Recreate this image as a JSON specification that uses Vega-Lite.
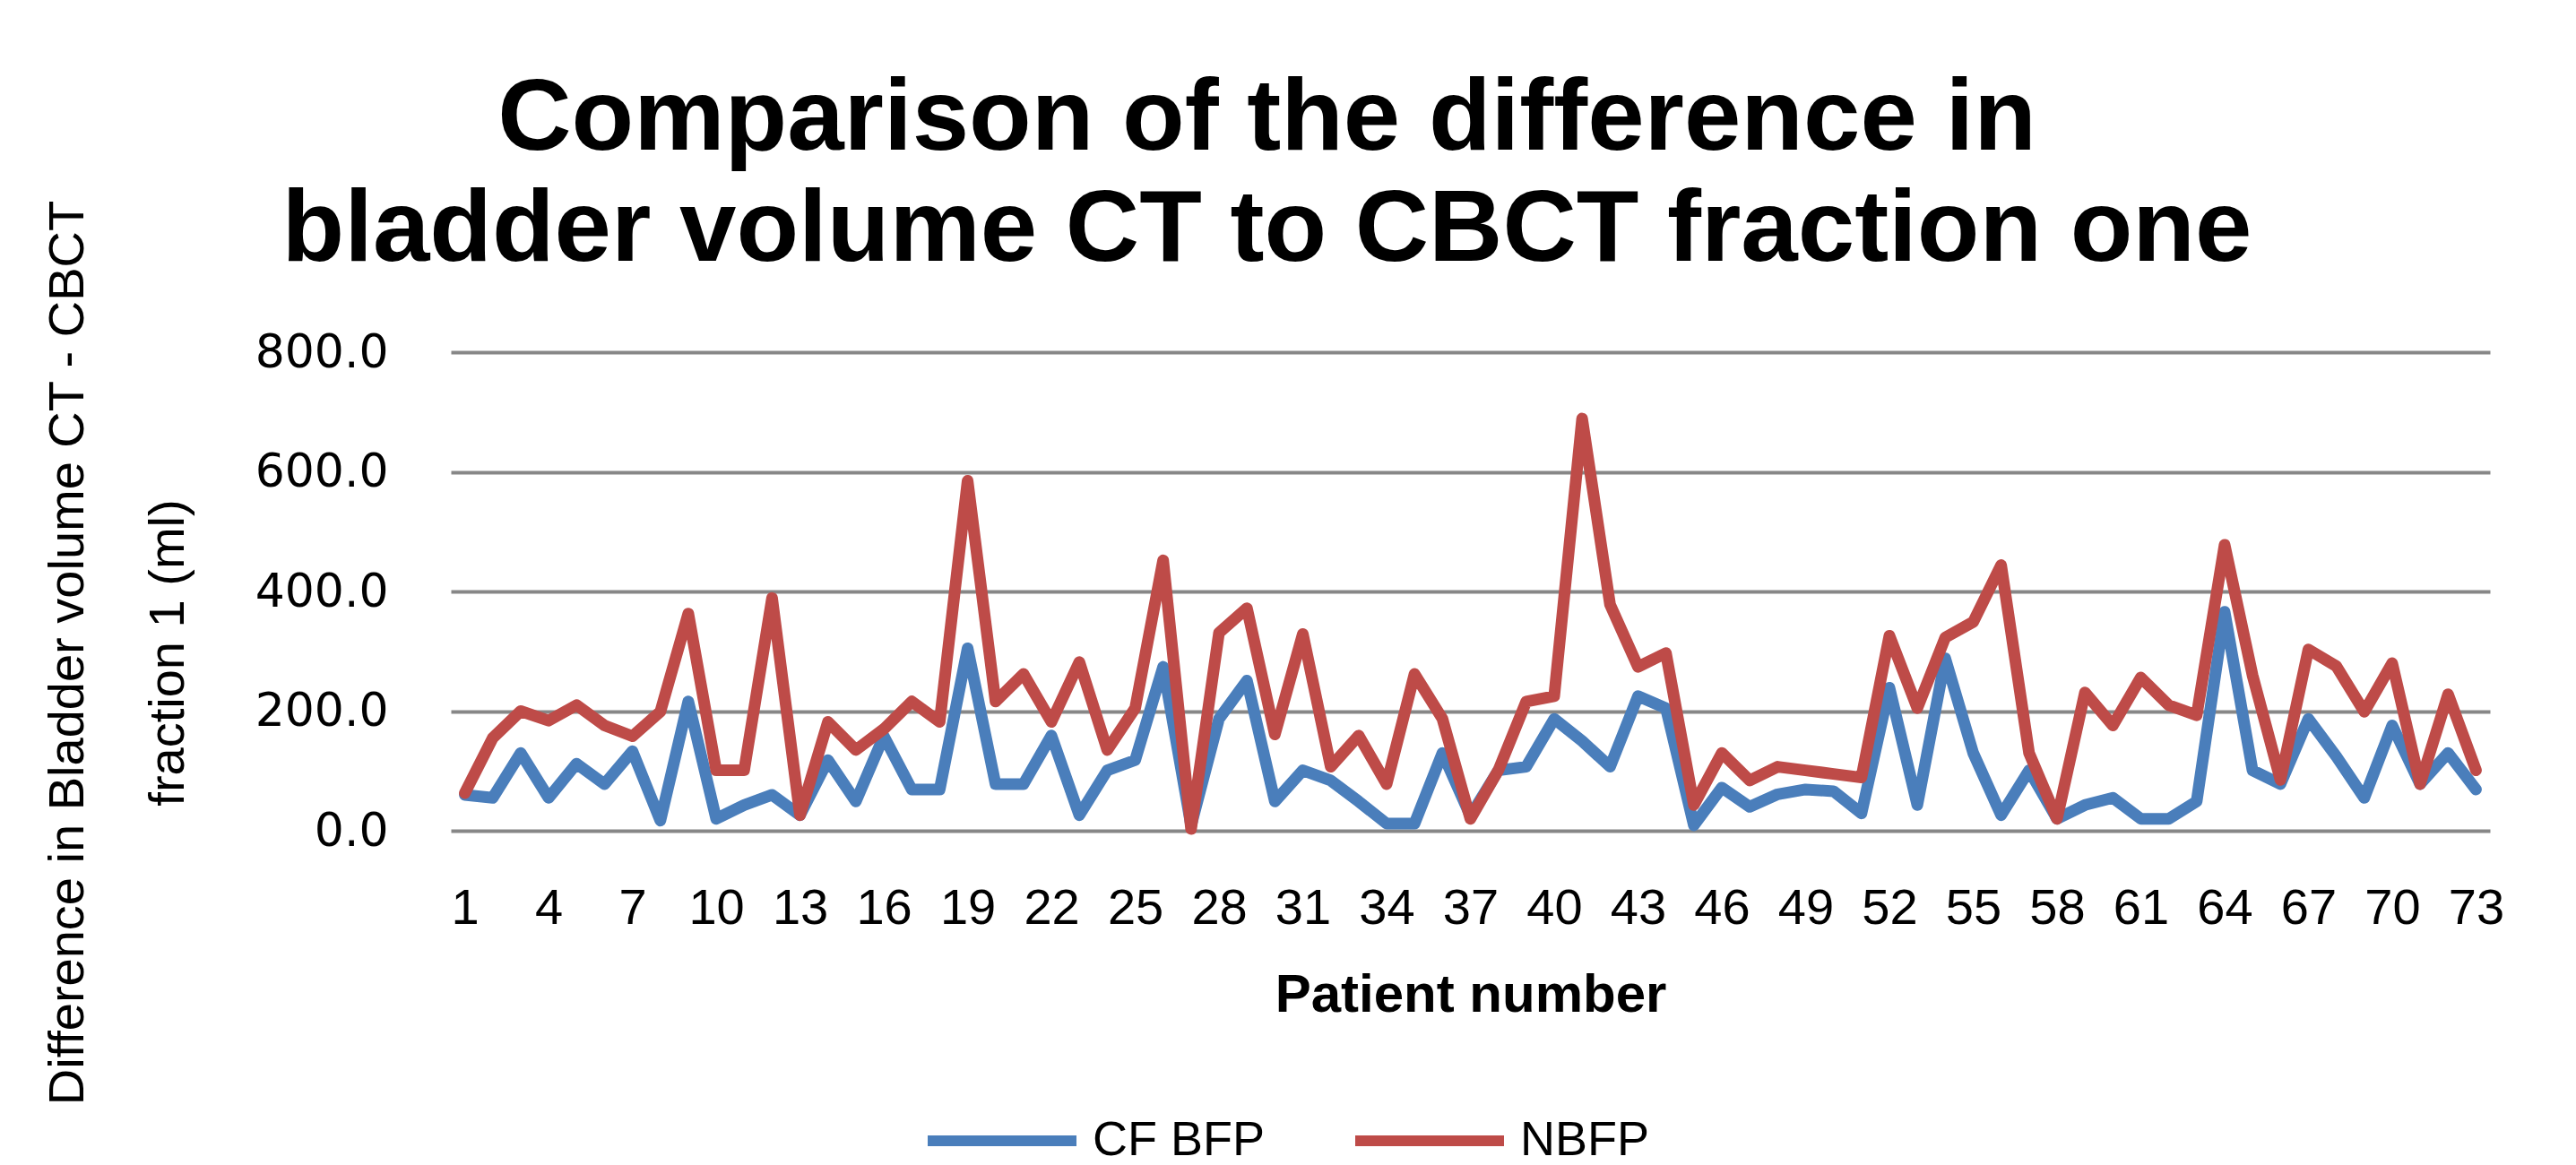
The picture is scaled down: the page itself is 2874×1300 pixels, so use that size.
{
  "$schema": "https://vega.github.io/schema/vega-lite/v6.json",
  "autosize": {"type": "none"},
  "padding": {"left": 503, "top": 393, "right": 96, "bottom": 373},
  "width": 2275,
  "height": 534,
  "background": "white",
  "title": {
    "text": ["Comparison of the difference in", "bladder volume CT to CBCT fraction one"],
    "font": "Liberation Sans",
    "fontSize": 114,
    "fontWeight": "bold",
    "color": "#000000",
    "lineHeight": 124,
    "anchor": "middle",
    "frame": "group",
    "dx": -227,
    "dy": 168,
    "offset": 76
  },
  "config": {
    "view": {"stroke": null},
    "axis": {"labelColor": "#000000", "titleColor": "#000000"}
  },
  "datasets": {
    "rows": [
      {"patient": 1, "series": "CF BFP", "value": 60}, {"patient": 2, "series": "CF BFP", "value": 55},
      {"patient": 3, "series": "CF BFP", "value": 130}, {"patient": 4, "series": "CF BFP", "value": 55},
      {"patient": 5, "series": "CF BFP", "value": 112}, {"patient": 6, "series": "CF BFP", "value": 78},
      {"patient": 7, "series": "CF BFP", "value": 133}, {"patient": 8, "series": "CF BFP", "value": 17},
      {"patient": 9, "series": "CF BFP", "value": 216}, {"patient": 10, "series": "CF BFP", "value": 20},
      {"patient": 11, "series": "CF BFP", "value": 43}, {"patient": 12, "series": "CF BFP", "value": 60},
      {"patient": 13, "series": "CF BFP", "value": 26}, {"patient": 14, "series": "CF BFP", "value": 118},
      {"patient": 15, "series": "CF BFP", "value": 49}, {"patient": 16, "series": "CF BFP", "value": 158},
      {"patient": 17, "series": "CF BFP", "value": 69}, {"patient": 18, "series": "CF BFP", "value": 69},
      {"patient": 19, "series": "CF BFP", "value": 305}, {"patient": 20, "series": "CF BFP", "value": 78},
      {"patient": 21, "series": "CF BFP", "value": 78}, {"patient": 22, "series": "CF BFP", "value": 159},
      {"patient": 23, "series": "CF BFP", "value": 26}, {"patient": 24, "series": "CF BFP", "value": 101},
      {"patient": 25, "series": "CF BFP", "value": 118}, {"patient": 26, "series": "CF BFP", "value": 274},
      {"patient": 27, "series": "CF BFP", "value": 9}, {"patient": 28, "series": "CF BFP", "value": 187},
      {"patient": 29, "series": "CF BFP", "value": 251}, {"patient": 30, "series": "CF BFP", "value": 49},
      {"patient": 31, "series": "CF BFP", "value": 101}, {"patient": 32, "series": "CF BFP", "value": 84},
      {"patient": 33, "series": "CF BFP", "value": 49}, {"patient": 34, "series": "CF BFP", "value": 12},
      {"patient": 35, "series": "CF BFP", "value": 12}, {"patient": 36, "series": "CF BFP", "value": 130},
      {"patient": 37, "series": "CF BFP", "value": 25}, {"patient": 38, "series": "CF BFP", "value": 101},
      {"patient": 39, "series": "CF BFP", "value": 107}, {"patient": 40, "series": "CF BFP", "value": 187},
      {"patient": 41, "series": "CF BFP", "value": 150}, {"patient": 42, "series": "CF BFP", "value": 107},
      {"patient": 43, "series": "CF BFP", "value": 225}, {"patient": 44, "series": "CF BFP", "value": 205},
      {"patient": 45, "series": "CF BFP", "value": 9}, {"patient": 46, "series": "CF BFP", "value": 72},
      {"patient": 47, "series": "CF BFP", "value": 40}, {"patient": 48, "series": "CF BFP", "value": 61},
      {"patient": 49, "series": "CF BFP", "value": 69}, {"patient": 50, "series": "CF BFP", "value": 66},
      {"patient": 51, "series": "CF BFP", "value": 29}, {"patient": 52, "series": "CF BFP", "value": 239},
      {"patient": 53, "series": "CF BFP", "value": 43}, {"patient": 54, "series": "CF BFP", "value": 288},
      {"patient": 55, "series": "CF BFP", "value": 130}, {"patient": 56, "series": "CF BFP", "value": 26},
      {"patient": 57, "series": "CF BFP", "value": 101}, {"patient": 58, "series": "CF BFP", "value": 20},
      {"patient": 59, "series": "CF BFP", "value": 43}, {"patient": 60, "series": "CF BFP", "value": 55},
      {"patient": 61, "series": "CF BFP", "value": 20}, {"patient": 62, "series": "CF BFP", "value": 20},
      {"patient": 63, "series": "CF BFP", "value": 49}, {"patient": 64, "series": "CF BFP", "value": 366},
      {"patient": 65, "series": "CF BFP", "value": 101}, {"patient": 66, "series": "CF BFP", "value": 78},
      {"patient": 67, "series": "CF BFP", "value": 187}, {"patient": 68, "series": "CF BFP", "value": 124},
      {"patient": 69, "series": "CF BFP", "value": 55}, {"patient": 70, "series": "CF BFP", "value": 176},
      {"patient": 71, "series": "CF BFP", "value": 78}, {"patient": 72, "series": "CF BFP", "value": 130},
      {"patient": 73, "series": "CF BFP", "value": 69},
      {"patient": 1, "series": "NBFP", "value": 63}, {"patient": 2, "series": "NBFP", "value": 155},
      {"patient": 3, "series": "NBFP", "value": 200}, {"patient": 4, "series": "NBFP", "value": 184},
      {"patient": 5, "series": "NBFP", "value": 210}, {"patient": 6, "series": "NBFP", "value": 176},
      {"patient": 7, "series": "NBFP", "value": 158}, {"patient": 8, "series": "NBFP", "value": 199},
      {"patient": 9, "series": "NBFP", "value": 363}, {"patient": 10, "series": "NBFP", "value": 101},
      {"patient": 11, "series": "NBFP", "value": 101}, {"patient": 12, "series": "NBFP", "value": 389},
      {"patient": 13, "series": "NBFP", "value": 26}, {"patient": 14, "series": "NBFP", "value": 182},
      {"patient": 15, "series": "NBFP", "value": 135}, {"patient": 16, "series": "NBFP", "value": 170},
      {"patient": 17, "series": "NBFP", "value": 216}, {"patient": 18, "series": "NBFP", "value": 182},
      {"patient": 19, "series": "NBFP", "value": 585}, {"patient": 20, "series": "NBFP", "value": 216},
      {"patient": 21, "series": "NBFP", "value": 262}, {"patient": 22, "series": "NBFP", "value": 182},
      {"patient": 23, "series": "NBFP", "value": 282}, {"patient": 24, "series": "NBFP", "value": 135},
      {"patient": 25, "series": "NBFP", "value": 205}, {"patient": 26, "series": "NBFP", "value": 452},
      {"patient": 27, "series": "NBFP", "value": 3}, {"patient": 28, "series": "NBFP", "value": 331},
      {"patient": 29, "series": "NBFP", "value": 372}, {"patient": 30, "series": "NBFP", "value": 161},
      {"patient": 31, "series": "NBFP", "value": 329}, {"patient": 32, "series": "NBFP", "value": 107},
      {"patient": 33, "series": "NBFP", "value": 159}, {"patient": 34, "series": "NBFP", "value": 78},
      {"patient": 35, "series": "NBFP", "value": 262}, {"patient": 36, "series": "NBFP", "value": 187},
      {"patient": 37, "series": "NBFP", "value": 20}, {"patient": 38, "series": "NBFP", "value": 101},
      {"patient": 39, "series": "NBFP", "value": 216}, {"patient": 40, "series": "NBFP", "value": 225},
      {"patient": 41, "series": "NBFP", "value": 689}, {"patient": 42, "series": "NBFP", "value": 378},
      {"patient": 43, "series": "NBFP", "value": 274}, {"patient": 44, "series": "NBFP", "value": 297},
      {"patient": 45, "series": "NBFP", "value": 43}, {"patient": 46, "series": "NBFP", "value": 130},
      {"patient": 47, "series": "NBFP", "value": 84}, {"patient": 48, "series": "NBFP", "value": 107},
      {"patient": 49, "series": "NBFP", "value": 101}, {"patient": 50, "series": "NBFP", "value": 95},
      {"patient": 51, "series": "NBFP", "value": 89}, {"patient": 52, "series": "NBFP", "value": 326},
      {"patient": 53, "series": "NBFP", "value": 205}, {"patient": 54, "series": "NBFP", "value": 323},
      {"patient": 55, "series": "NBFP", "value": 349}, {"patient": 56, "series": "NBFP", "value": 444},
      {"patient": 57, "series": "NBFP", "value": 130}, {"patient": 58, "series": "NBFP", "value": 20},
      {"patient": 59, "series": "NBFP", "value": 231}, {"patient": 60, "series": "NBFP", "value": 176},
      {"patient": 61, "series": "NBFP", "value": 256}, {"patient": 62, "series": "NBFP", "value": 210},
      {"patient": 63, "series": "NBFP", "value": 193}, {"patient": 64, "series": "NBFP", "value": 478},
      {"patient": 65, "series": "NBFP", "value": 260}, {"patient": 66, "series": "NBFP", "value": 85},
      {"patient": 67, "series": "NBFP", "value": 303}, {"patient": 68, "series": "NBFP", "value": 275},
      {"patient": 69, "series": "NBFP", "value": 199}, {"patient": 70, "series": "NBFP", "value": 280},
      {"patient": 71, "series": "NBFP", "value": 78}, {"patient": 72, "series": "NBFP", "value": 228},
      {"patient": 73, "series": "NBFP", "value": 101}
    ]
  },
  "data": {"name": "rows"},
  "mark": {"type": "line", "strokeWidth": 13, "strokeJoin": "round", "strokeCap": "round"},
  "encoding": {
    "x": {
      "field": "patient",
      "type": "ordinal",
      "sort": "ascending",
      "axis": {
        "values": [1, 4, 7, 10, 13, 16, 19, 22, 25, 28, 31, 34, 37, 40, 43, 46, 49, 52, 55, 58, 61, 64, 67, 70, 73],
        "labelAngle": 0,
        "domain": false,
        "ticks": false,
        "grid": false,
        "labelFont": "Liberation Sans",
        "labelFontSize": 56,
        "labelPadding": 59,
        "title": "Patient number",
        "titleFont": "Liberation Sans",
        "titleFontSize": 60,
        "titleFontWeight": "bold",
        "titlePadding": 40
      }
    },
    "y": {
      "field": "value",
      "type": "quantitative",
      "scale": {"domain": [0, 800]},
      "axis": {
        "values": [0, 200, 400, 600, 800],
        "format": ".1f",
        "domain": false,
        "ticks": false,
        "grid": true,
        "gridColor": "#878787",
        "gridWidth": 4,
        "labelFont": "DejaVu Sans",
        "labelFontSize": 52,
        "labelPadding": 70,
        "title": ["Difference in Bladder volume CT - CBCT", "fraction 1 (ml)"],
        "titleFont": "Liberation Sans",
        "titleFontSize": 56,
        "titleFontWeight": "normal",
        "titleLineHeight": 112,
        "titleAngle": 270,
        "titleAlign": "center",
        "titleBaseline": "top",
        "titleX": -455,
        "titleY": 335
      }
    },
    "color": {
      "field": "series",
      "type": "nominal",
      "scale": {"domain": ["CF BFP", "NBFP"], "range": ["#4A7EBB", "#BE4B48"]},
      "legend": {
        "title": null,
        "orient": "none",
        "direction": "horizontal",
        "legendX": 526,
        "legendY": 791,
        "symbolType": "stroke",
        "symbolSize": 27556,
        "symbolStrokeWidth": 12,
        "labelFont": "Liberation Sans",
        "labelFontSize": 54,
        "labelColor": "#000000",
        "labelOffset": 12,
        "labelLimit": 0,
        "columnPadding": 76
      }
    }
  }
}
